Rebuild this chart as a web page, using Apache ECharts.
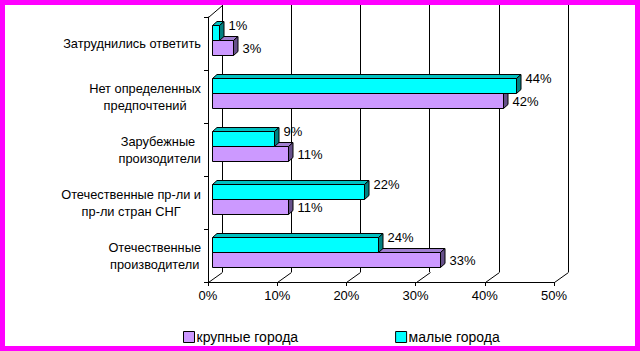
<!DOCTYPE html>
<html>
<head>
<meta charset="utf-8">
<script src="https://cdn.jsdelivr.net/npm/echarts@6/dist/echarts.min.js"></script>
<style>
  html, body { margin: 0; padding: 0; background: #fff; }
  #chart { width: 640px; height: 351px; }
</style>
</head>
<body>
<div id="chart"></div>
<script>
// data
const categories = [
  "Затруднились ответить",
  "Нет определенных\nпредпочтений",
  "Зарубежные \nпроизодители",
  "Отечественные пр-ли и\nпр-ли стран СНГ",
  "Отечественные\nпроизводители"
];
const bigCities = [3, 42, 11, 11, 33];
const smallCities = [1, 44, 9, 22, 24];
const seriesNames = ["крупные города", "малые города"];
const xTicks = [0, 10, 20, 30, 40, 50];

const FONT = '"Liberation Sans", Arial, sans-serif';
const DX = 14, DY = -10;        // depth of the back wall
const BAR_H = 15, BAR_TOP = 8;  // bar thickness, offset inside band
const BDX = 4.5, BDY = -4;      // depth of a bar

const chart = echarts.init(document.getElementById("chart"), null, { renderer: "svg" });

function barRenderer(slot, front, topC, sideC, labelDy) {
  return function (params, api) {
    const val = api.value(0), cat = api.value(1);
    const p0 = api.coord([0, cat]);
    const p1 = api.coord([val, cat]);
    const band = api.size([0, 1])[1];
    const top = Math.round(p0[1] - band / 2) + BAR_TOP + slot * BAR_H + 0.5;
    const x0 = Math.round(p0[0]) + 4.5;
    const x1 = Math.round(p1[0]) + 4.5;
    const line = { stroke: "#000", lineWidth: 1 };
    return {
      type: "group",
      children: [
        {
          type: "polygon",
          shape: { points: [[x0, top], [x1, top], [x1 + BDX, top + BDY], [x0 + BDX, top + BDY]] },
          style: Object.assign({ fill: topC }, line)
        },
        {
          type: "polygon",
          shape: { points: [[x1, top], [x1 + BDX, top + BDY], [x1 + BDX, top + BAR_H + BDY], [x1, top + BAR_H]] },
          style: Object.assign({ fill: sideC }, line)
        },
        {
          type: "rect",
          shape: { x: x0, y: top, width: x1 - x0, height: BAR_H },
          style: Object.assign({ fill: front }, line)
        },
        {
          type: "text",
          style: {
            text: val + "%",
            x: x1 + 9,
            y: top + BAR_H / 2 + labelDy,
            verticalAlign: "middle",
            font: "13px " + FONT,
            fill: "#000"
          }
        }
      ]
    };
  };
}

const option = {
  animation: false,
  backgroundColor: "#fff",
  graphic: [
    {
      type: "rect",
      shape: { x: 2.5, y: 2.5, width: 635, height: 346 },
      style: { fill: "none", stroke: "#ff00ff", lineWidth: 5 },
      z: 100
    }
  ],
  legend: {
    data: seriesNames,
    left: 183,
    top: 330,
    padding: 0,
    itemWidth: 11,
    itemHeight: 11,
    itemGap: 97,
    icon: "rect",
    itemStyle: { borderColor: "#000", borderWidth: 1 },
    textStyle: { fontFamily: FONT, fontSize: 14, color: "#000", padding: [0, 0, 0, -3] }
  },
  grid: [
    { left: 208, right: 86, top: 17, bottom: 69 },
    { left: 222, right: 72, top: 5, bottom: 79 }
  ],
  xAxis: [
    {
      type: "value",
      gridIndex: 0,
      min: 0,
      max: 50,
      interval: 10,
      axisLine: { show: true, lineStyle: { color: "#000", width: 1 } },
      axisTick: { show: true, length: 4, lineStyle: { color: "#000" } },
      axisLabel: { formatter: "{value}%", color: "#000", fontFamily: FONT, fontSize: 13, margin: 7 },
      splitLine: { show: false }
    },
    {
      type: "value",
      gridIndex: 1,
      min: 0,
      max: 50,
      interval: 10,
      axisLine: { show: false },
      axisTick: { show: false },
      axisLabel: { show: false },
      splitLine: { show: true, lineStyle: { color: "#000", width: 1 } }
    }
  ],
  yAxis: [
    {
      type: "category",
      gridIndex: 0,
      data: categories,
      inverse: true,
      axisLine: { show: true, lineStyle: { color: "#000", width: 1 } },
      axisTick: { show: true, length: 4, lineStyle: { color: "#000" } },
      axisLabel: {
        margin: 7,
        align: "right",
        formatter: function (v) {
          return v.split("\n").map(function (l) { return "{c|" + l + "}"; }).join("\n");
        },
        rich: {
          c: { align: "center", fontFamily: FONT, fontSize: 12.8, lineHeight: 17, color: "#000" }
        }
      },
      splitLine: { show: false }
    },
    {
      type: "category",
      gridIndex: 1,
      data: categories,
      inverse: true,
      show: false
    }
  ],
  series: [
    {
      type: "custom",
      name: "frame",
      xAxisIndex: 0,
      yAxisIndex: 0,
      silent: true,
      z: 1,
      data: xTicks.map(function (t) { return [t]; }),
      renderItem: function (params, api) {
        const cs = params.coordSys;
        const x = Math.round(api.coord([api.value(0), 0])[0]) + 0.5;
        const bottom = Math.round(cs.y + cs.height) + 0.5;
        const kids = [
          { type: "line", shape: { x1: x, y1: bottom, x2: x + DX, y2: bottom + DY }, style: { stroke: "#000", lineWidth: 1 } }
        ];
        if (api.value(0) === 0) {
          const top = Math.round(cs.y) + 0.5;
          kids.push({ type: "line", shape: { x1: x, y1: top, x2: x + DX, y2: 5.5 }, style: { stroke: "#000", lineWidth: 1 } });
        }
        return { type: "group", children: kids };
      }
    },
    {
      type: "custom",
      name: seriesNames[0],
      xAxisIndex: 0,
      yAxisIndex: 0,
      z: 2,
      itemStyle: { color: "#cc99ff" },
      data: bigCities.map(function (v, i) { return [v, i]; }),
      renderItem: barRenderer(1, "#cc99ff", "#a07fd0", "#66508a", 0)
    },
    {
      type: "custom",
      name: seriesNames[1],
      xAxisIndex: 0,
      yAxisIndex: 0,
      z: 3,
      itemStyle: { color: "#00ffff" },
      data: smallCities.map(function (v, i) { return [v, i]; }),
      renderItem: barRenderer(0, "#00ffff", "#00c0c0", "#008080", -8)
    }
  ]
};

chart.setOption(option);
</script>
</body>
</html>
